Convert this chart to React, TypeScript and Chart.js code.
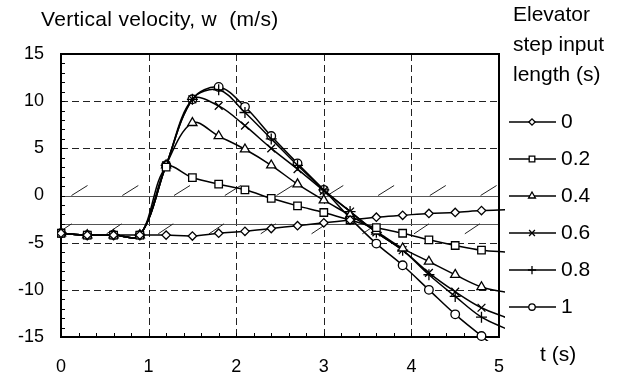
import React, { useEffect, useRef } from 'react';
import { Chart, registerables } from 'chart.js';
import { drawPoint } from 'chart.js/helpers';

Chart.register(...registerables);

// ---------- data ----------
const times = [0, 0.3, 0.6, 0.9, 1.2, 1.5, 1.8, 2.1, 2.4, 2.7, 3.0, 3.3, 3.6, 3.9, 4.2, 4.5, 4.8, 5.1];

const w_0 = [-4.0, -4.2, -4.2, -4.2, -4.2, -4.3, -4.0, -3.8, -3.5, -3.2, -2.9, -2.6, -2.3, -2.1, -1.9, -1.8, -1.6, -1.5];
const w_02 = [-4.0, -4.2, -4.2, -4.2, 3.0, 1.9, 1.2, 0.6, -0.3, -1.1, -1.8, -2.6, -3.4, -4.0, -4.7, -5.3, -5.8, -6.0];
const w_04 = [-4.0, -4.2, -4.2, -4.2, 3.2, 7.7, 6.3, 4.9, 3.2, 1.2, -0.5, -2.1, -3.8, -5.6, -7.0, -8.4, -9.7, -10.3];
const w_06 = [-4.0, -4.2, -4.2, -4.2, 3.2, 10.2, 9.5, 7.4, 5.0, 2.8, 0.5, -1.7, -3.9, -5.8, -8.2, -10.2, -11.9, -13.0];
const w_08 = [-4.0, -4.2, -4.2, -4.2, 3.2, 10.2, 11.2, 8.8, 6.0, 3.2, 0.6, -1.7, -3.9, -5.8, -8.4, -10.7, -12.9, -14.2];
const w_1 = [-4.0, -4.2, -4.2, -4.2, 3.2, 10.2, 11.5, 9.4, 6.3, 3.4, 0.6, -2.4, -5.1, -7.4, -10.0, -12.6, -14.9, -17.2];

const seriesLabels = ['0', '0.2', '0.4', '0.6', '0.8', '1'];
const seriesValues = [w_0, w_02, w_04, w_06, w_08, w_1];

const xTicks = [0, 1, 2, 3, 4, 5];
const yTicks = [-15, -10, -5, 0, 5, 10, 15];
const xGrid = [1, 2, 3, 4];
const yGrid = [-10, -5, 5, 10];

const upperLimit = 0;
const lowerLimit = -3;
const upperHatchT = [0.12, 0.70, 1.29, 1.87, 2.46, 3.04, 3.62, 4.21, 4.79];
const lowerHatchT = [-0.05, 0.52, 1.11, 1.69, 2.28, 2.86, 3.44, 4.03, 4.61];

const yTitle = 'Vertical velocity, w  (m/s)';
const xTitle = 't (s)';
const legendTitle = ['Elevator', 'step input', 'length (s)'];

// ---------- styles ----------
const FONT = "'Liberation Sans', Arial, sans-serif";
const markers = [
  { style: 'rectRot', r: 4.2 },
  { style: 'rect', r: 5.3 },
  { style: 'triangle', r: 5.3 },
  { style: 'crossRot', r: 5.5 },
  { style: 'cross', r: 5.5 },
  { style: 'circle', r: 4.3 },
];

const decor = {
  id: 'decor',
  beforeDatasetsDraw(chart: any) {
    const { ctx, chartArea: a, scales } = chart;
    const x = scales.x, y = scales.y;
    ctx.save();
    // dashed grid
    ctx.strokeStyle = '#222';
    ctx.lineWidth = 1;
    ctx.setLineDash([7, 4]);
    xGrid.forEach((v) => {
      const px = Math.round(x.getPixelForValue(v)) + 0.5;
      ctx.beginPath(); ctx.moveTo(px, a.top); ctx.lineTo(px, a.bottom); ctx.stroke();
    });
    yGrid.forEach((v) => {
      const py = Math.round(y.getPixelForValue(v)) + 0.5;
      ctx.beginPath(); ctx.moveTo(a.left, py); ctx.lineTo(a.right, py); ctx.stroke();
    });
    ctx.setLineDash([]);
    // limit lines
    ctx.strokeStyle = '#555';
    [upperLimit, lowerLimit].forEach((v) => {
      const py = Math.round(y.getPixelForValue(v)) + 0.5;
      ctx.beginPath(); ctx.moveTo(a.left, py); ctx.lineTo(a.right, py); ctx.stroke();
    });
    // hatches
    ctx.save();
    ctx.beginPath(); ctx.rect(a.left, a.top, a.width, a.height); ctx.clip();
    ctx.strokeStyle = '#222';
    const pu = y.getPixelForValue(upperLimit);
    upperHatchT.forEach((t) => {
      const px = x.getPixelForValue(t);
      ctx.beginPath(); ctx.moveTo(px, pu); ctx.lineTo(px + 16, pu - 10); ctx.stroke();
    });
    const pl = y.getPixelForValue(lowerLimit);
    lowerHatchT.forEach((t) => {
      const px = x.getPixelForValue(t);
      ctx.beginPath(); ctx.moveTo(px, pl + 10); ctx.lineTo(px + 15, pl); ctx.stroke();
    });
    ctx.restore();
    // minor ticks
    ctx.strokeStyle = '#000';
    ctx.lineWidth = 1;
    for (let v = 0; v <= 5.0001; v += 0.2) {
      const px = Math.round(x.getPixelForValue(v)) + 0.5;
      ctx.beginPath(); ctx.moveTo(px, a.bottom); ctx.lineTo(px, a.bottom - 4); ctx.stroke();
    }
    for (let v = -15; v <= 15; v += 1) {
      const py = Math.round(y.getPixelForValue(v)) + 0.5;
      ctx.beginPath(); ctx.moveTo(a.left, py); ctx.lineTo(a.left + 4, py); ctx.stroke();
    }
    // frame
    ctx.lineWidth = 2;
    ctx.strokeStyle = '#000';
    ctx.strokeRect(a.left, a.top, a.width, a.height);
    ctx.restore();
  },
  afterDraw(chart: any) {
    const { ctx } = chart;
    ctx.save();
    ctx.fillStyle = '#000';
    ctx.font = `21px ${FONT}`;
    ctx.textBaseline = 'middle';
    ctx.textAlign = 'left';
    try { (ctx as any).letterSpacing = '0.3px'; } catch (e) {}
    ctx.fillText(yTitle, 41, 20);
    try { (ctx as any).letterSpacing = '0px'; } catch (e) {}
    legendTitle.forEach((s, i) => ctx.fillText(s, 513, 15 + i * 30));
    ctx.fillText(xTitle, 540, 355);
    // legend rows
    seriesLabels.forEach((lab, i) => {
      const yy = 122 + i * 37;
      ctx.strokeStyle = '#000';
      ctx.lineWidth = 1.5;
      ctx.beginPath(); ctx.moveTo(509, yy); ctx.lineTo(556, yy); ctx.stroke();
      ctx.fillStyle = '#fff';
      ctx.lineWidth = 1.3;
      drawPoint(ctx, { pointStyle: markers[i].style, rotation: 0, radius: markers[i].r * 0.75, borderWidth: 1.3 } as any, 532, yy);
      ctx.fillStyle = '#000';
      ctx.fillText(lab, 561, yy);
    });
    ctx.restore();
  },
};

export default function App() {
  const ref = useRef<HTMLCanvasElement>(null);
  useEffect(() => {
    if (!ref.current) return;
    const last = times.length - 1;
    const chart = new Chart(ref.current, {
      type: 'line',
      data: {
        datasets: seriesValues.map((vals, i) => ({
          label: seriesLabels[i],
          data: times.map((t, j) => ({ x: t, y: vals[j] })),
          borderColor: '#000',
          borderWidth: 1.5,
          backgroundColor: '#fff',
          pointStyle: markers[i].style as any,
          pointRadius: (c: any) => (c.dataIndex === last ? 0 : markers[i].r),
          pointBackgroundColor: '#fff',
          pointBorderColor: '#000',
          pointBorderWidth: 1.3,
          tension: 0.35,
          fill: false,
          clip: { left: 4, top: 4, right: 6, bottom: 4 } as any,
        })),
      },
      options: {
        animation: false,
        responsive: false,
        devicePixelRatio: 1,
        events: [],
        layout: { padding: { left: 0, top: 54, right: 120, bottom: 0 } },
        plugins: { legend: { display: false }, tooltip: { enabled: false } },
        scales: {
          x: {
            type: 'linear',
            min: 0,
            max: 5,
            afterBuildTicks: (s: any) => { s.ticks = xTicks.map((v) => ({ value: v })); },
            afterFit: (s: any) => { s.height = 40; },
            grid: { display: false, drawTicks: false },
            border: { display: false },
            ticks: { font: { family: FONT, size: 18 }, color: '#000', padding: 19, maxRotation: 0, autoSkip: false },
          },
          y: {
            type: 'linear',
            min: -15,
            max: 15,
            afterBuildTicks: (s: any) => { s.ticks = yTicks.map((v) => ({ value: v })); },
            afterFit: (s: any) => { s.width = 61; },
            grid: { display: false, drawTicks: false },
            border: { display: false },
            ticks: { font: { family: FONT, size: 18 }, color: '#000', padding: 17, autoSkip: false },
          },
        },
      },
      plugins: [decor],
    } as any);
    return () => chart.destroy();
  }, []);
  return (
    <div style={{ position: 'absolute', left: 0, top: 0, width: 619, height: 377, background: '#fff' }}>
      <canvas ref={ref} width={619} height={377} style={{ width: 619, height: 377, display: 'block' }} />
    </div>
  );
}
